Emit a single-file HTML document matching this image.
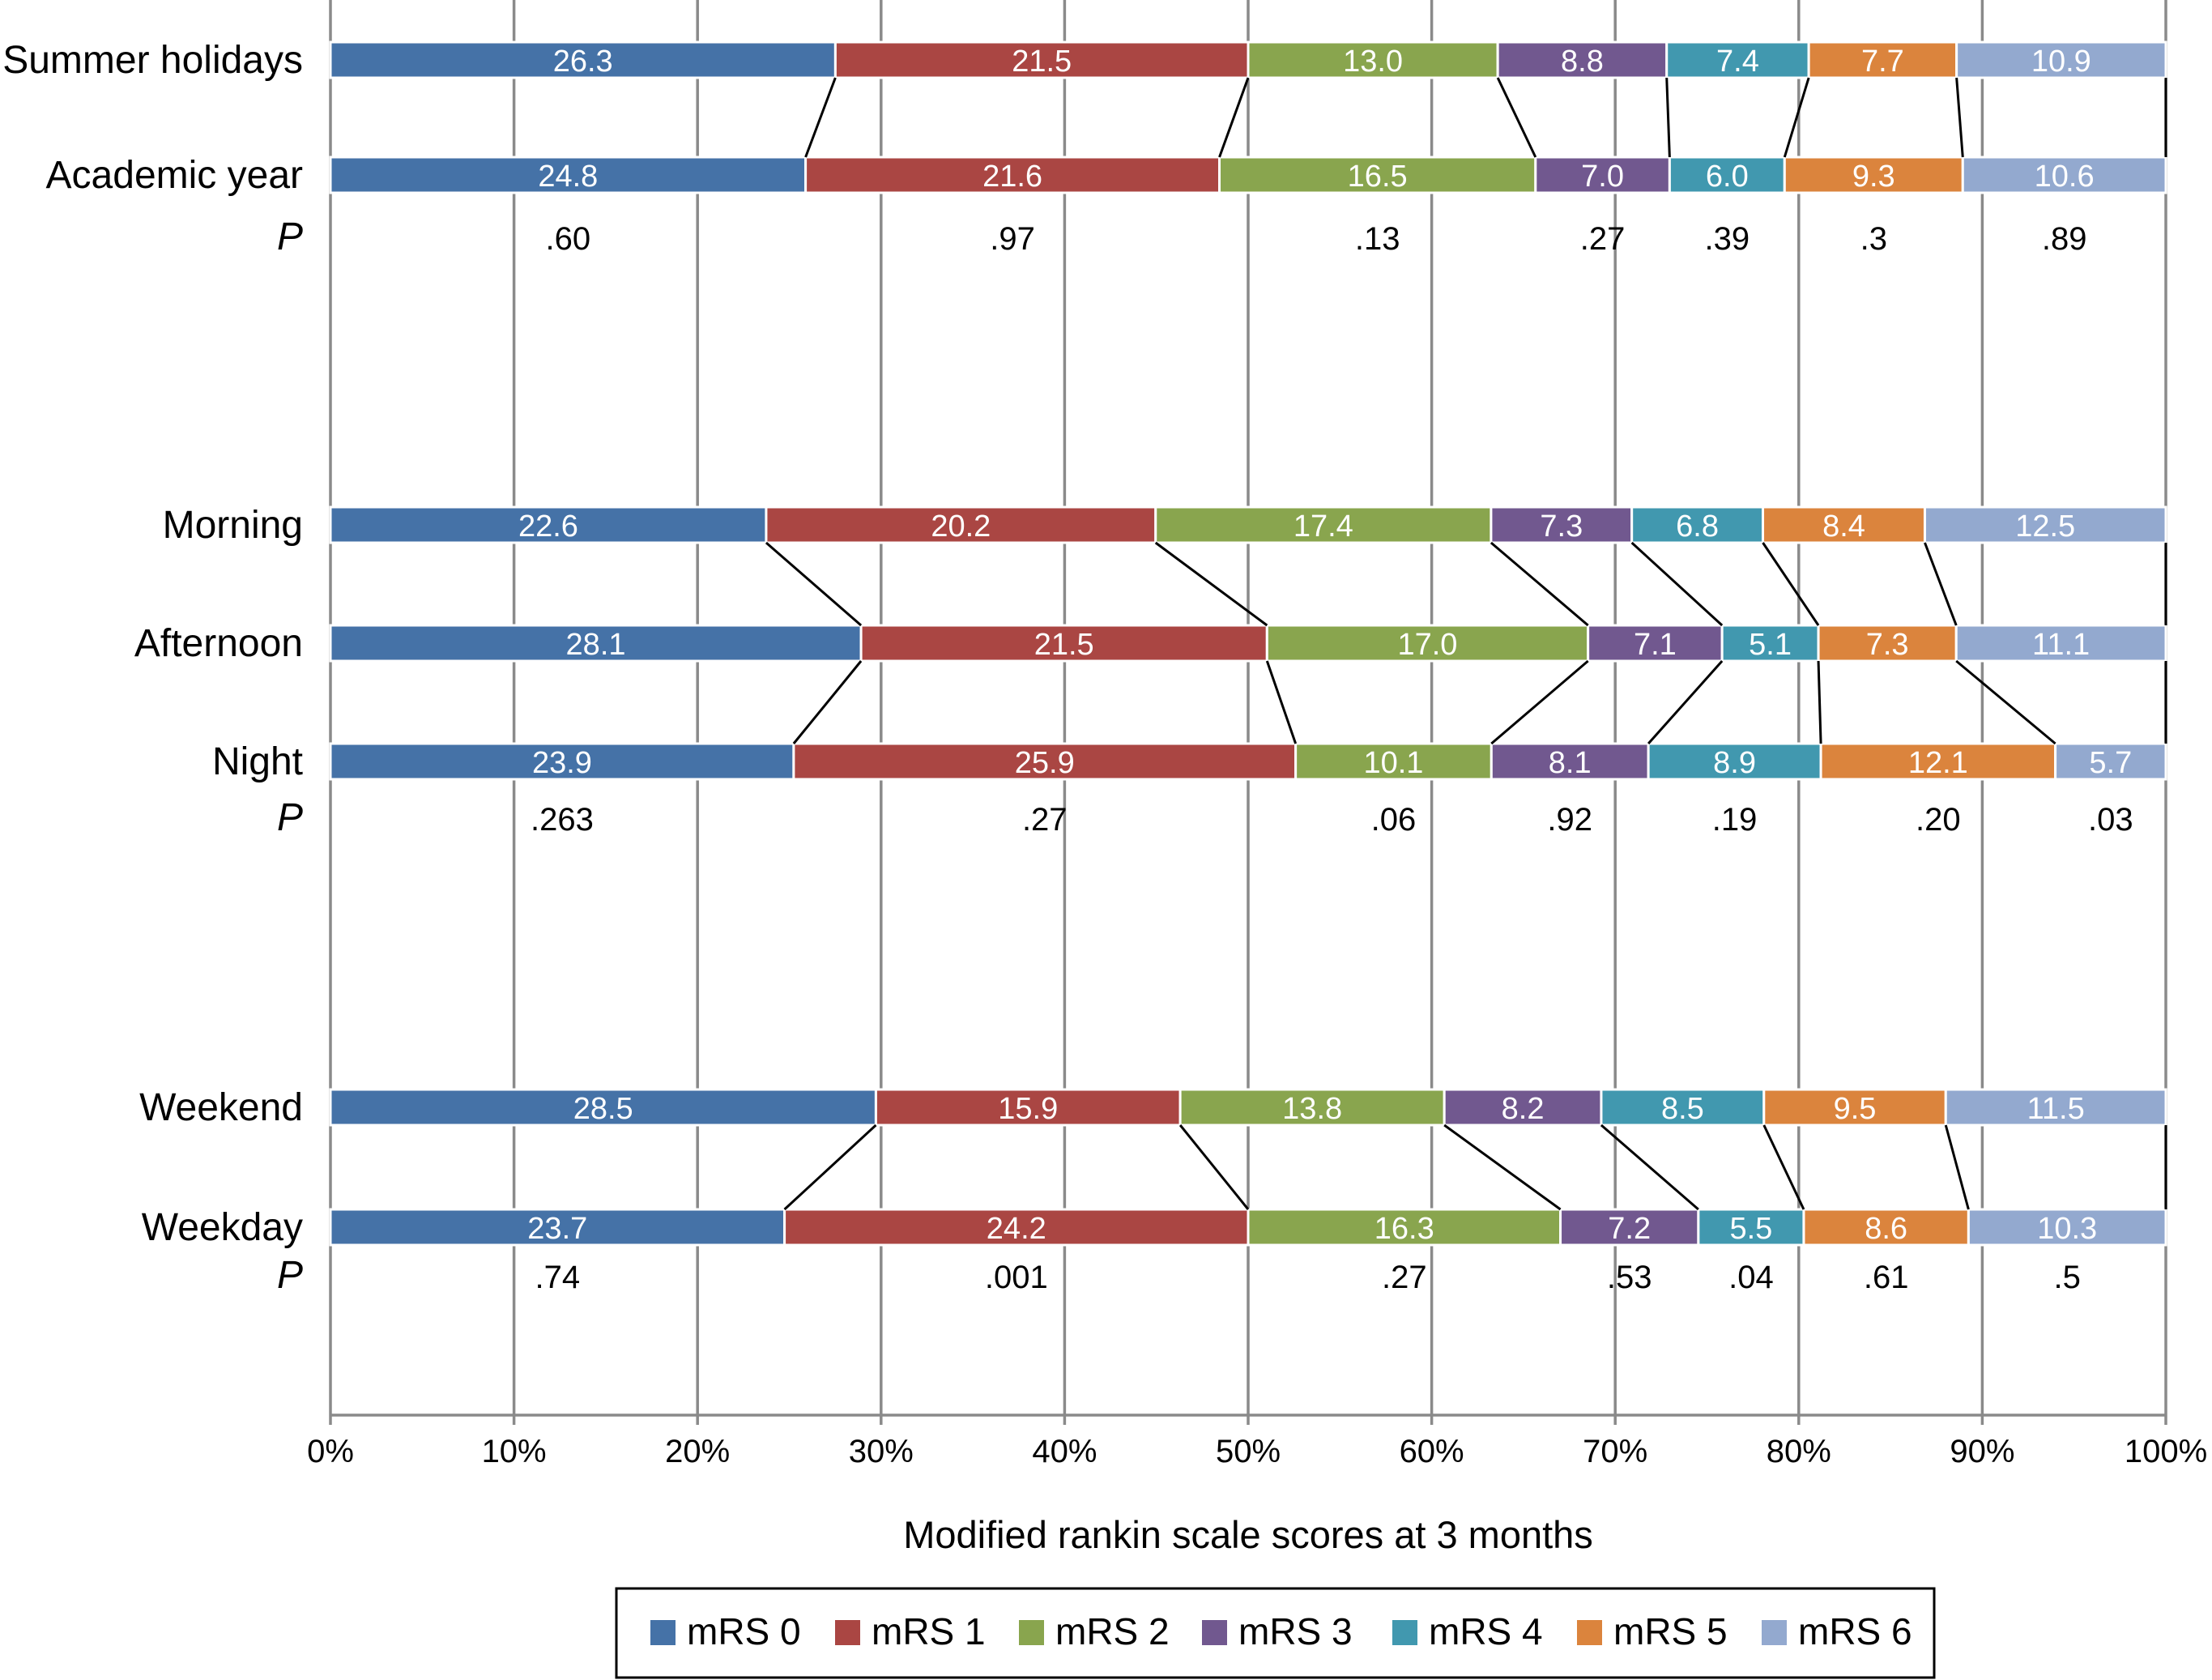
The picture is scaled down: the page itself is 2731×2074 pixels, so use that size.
<!DOCTYPE html>
<html><head><meta charset="utf-8"><style>
html,body{margin:0;padding:0;background:#fff;}
svg{display:block;font-family:"Liberation Sans",sans-serif;}
</style></head><body>
<svg id="chart" width="2731" height="2074" viewBox="0 0 2731 2074" xmlns="http://www.w3.org/2000/svg"></svg>
<script>
const categories = ["Summer holidays","Academic year","Morning","Afternoon","Night","Weekend","Weekday"];
const mrs0 = [26.3,24.8,22.6,28.1,23.9,28.5,23.7];
const mrs1 = [21.5,21.6,20.2,21.5,25.9,15.9,24.2];
const mrs2 = [13.0,16.5,17.4,17.0,10.1,13.8,16.3];
const mrs3 = [8.8,7.0,7.3,7.1,8.1,8.2,7.2];
const mrs4 = [7.4,6.0,6.8,5.1,8.9,8.5,5.5];
const mrs5 = [7.7,9.3,8.4,7.3,12.1,9.5,8.6];
const mrs6 = [10.9,10.6,12.5,11.1,5.7,11.5,10.3];
const seriesNames = ["mRS 0","mRS 1","mRS 2","mRS 3","mRS 4","mRS 5","mRS 6"];
const pGroup1 = [".60",".97",".13",".27",".39",".3",".89"];
const pGroup2 = [".263",".27",".06",".92",".19",".20",".03"];
const pGroup3 = [".74",".001",".27",".53",".04",".61",".5"];
const tickLabels = ["0%","10%","20%","30%","40%","50%","60%","70%","80%","90%","100%"];

const colors = ["#4572a7","#aa4643","#89a54e","#71588f","#4198af","#db843d","#93a9cf"];
const series = [mrs0,mrs1,mrs2,mrs3,mrs4,mrs5,mrs6];
const svg = document.getElementById('chart');
const NS = "http://www.w3.org/2000/svg";
const X0 = 408, X1 = 2674, AXY = 1747, BH = 44;
const xs = p => X0 + (X1 - X0) * p / 100;
const rowY = [74,216,648,794,940,1367,1515];
const groups = [[0,1],[2,3,4],[5,6]];
const pRows = [{y:293,vals:pGroup1,ref:1},{y:1010,vals:pGroup2,ref:4},{y:1575,vals:pGroup3,ref:6}];
function mk(tag, attrs){const e=document.createElementNS(NS,tag);for(const k in attrs)e.setAttribute(k,attrs[k]);svg.appendChild(e);return e;}

tickLabels.forEach((t,i)=>{
  const g = mk('line',{x1:xs(i*10),x2:xs(i*10),y1:0,y2:AXY+12,stroke:'#8a8a8a','stroke-width':3.5});
  
  
  const tl = mk('text',{x:xs(i*10),y:1805,'text-anchor':'middle','font-size':40,fill:'#000'});
  tl.textContent=t;
  
  
});
const ax = mk('line',{x1:X0,x2:X1,y1:AXY,y2:AXY,stroke:'#8a8a8a','stroke-width':3.5});



const bounds = [];
categories.forEach((c,r)=>{
  const tot = series.reduce((s,a)=>s+a[r],0);
  let cum = 0; const b=[];
  const y = rowY[r]-BH/2;
  series.forEach((a,s)=>{
    const x1 = xs(cum/tot*100); cum += a[r]; const x2 = xs(cum/tot*100);
    b.push([x1,x2]);
    const rect = mk('rect',{x:x1,y:y,width:x2-x1,height:BH,fill:colors[s],stroke:'#fff','stroke-width':3});
    
    
    const t = mk('text',{x:(x1+x2)/2,y:rowY[r]+14,'text-anchor':'middle','font-size':38,fill:'#fff'});
    t.textContent=a[r].toFixed(1);
    
    
  });
  bounds.push(b);
  const lab = mk('text',{x:374,y:rowY[r]+16,'text-anchor':'end','font-size':48,fill:'#000'});
  lab.textContent=c;
  
  
});
groups.forEach(g=>{
  for(let i=0;i<g.length-1;i++){
    const a=g[i], b=g[i+1];
    for(let s=0;s<7;s++){
      const l = mk('line',{x1:bounds[a][s][1],y1:rowY[a]+BH/2,x2:bounds[b][s][1],y2:rowY[b]-BH/2,stroke:'#000','stroke-width':3});
      
      
    }
  }
});
pRows.forEach(p=>{
  const pl = mk('text',{x:374,y:p.y+15,'text-anchor':'end','font-size':48,'font-style':'italic',fill:'#000'});
  pl.textContent='P';
  
  
  p.vals.forEach((v,s)=>{
    const [x1,x2]=bounds[p.ref][s];
    const t = mk('text',{x:(x1+x2)/2,y:p.y+15,'text-anchor':'middle','font-size':40,fill:'#000'});
    t.textContent=v;
    
    
  });
});
const at = mk('text',{x:1541,y:1911,'text-anchor':'middle','font-size':47,fill:'#000'});
at.textContent='Modified rankin scale scores at 3 months';


const lb = mk('rect',{x:761,y:1961,width:1627,height:110,fill:'#fff',stroke:'#000','stroke-width':3});


const lx=[803,1031,1258,1484,1719,1947,2175];
seriesNames.forEach((n,i)=>{
  const sq = mk('rect',{x:lx[i],y:2000,width:31,height:31,fill:colors[i]});
  
  
  const t = mk('text',{x:lx[i]+45,y:2030,'font-size':46,fill:'#000'});
  t.textContent=n;
  
  
});
</script>
</body></html>
